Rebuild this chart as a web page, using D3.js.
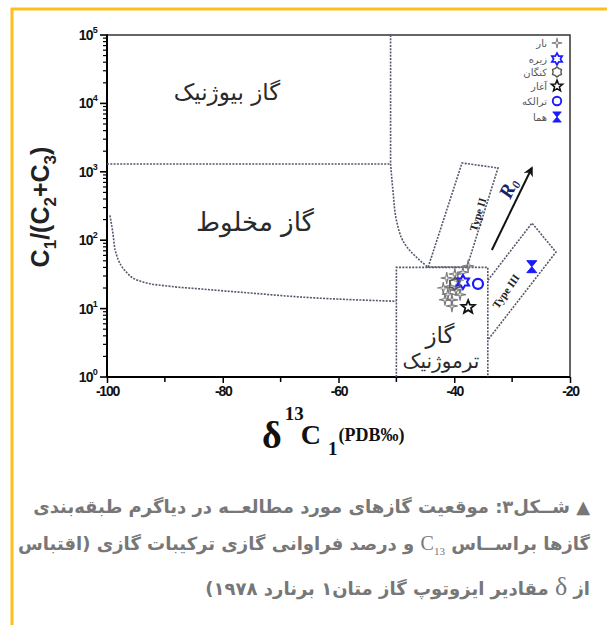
<!DOCTYPE html>
<html>
<head>
<meta charset="utf-8">
<script src="https://cdn.jsdelivr.net/npm/d3@7"></script>
<style>
  body { margin: 0; background: #fff; }
  #wrap { position: relative; width: 607px; height: 625px; overflow: hidden; }
  svg { position: absolute; left: 0; top: 0; }
  #caption { position: absolute; left: 60px; top: 489px; width: 530px; direction: rtl;
    font-family: "DejaVu Sans", sans-serif; font-weight: bold; font-size: 18px; color: #777; line-height: 36px; }
  #caption div { white-space: nowrap; }
  #caption .j { text-align: justify; text-align-last: justify; }
  .lat { font-family: "Liberation Serif", serif; font-weight: normal; direction: ltr; unicode-bidi: isolate; }
</style>
</head>
<body>
<div id="wrap">
<svg id="chart" width="607" height="625"></svg>
<div id="caption">
  <div class="j">▲ شــکل۳: موقعیت گازهای مورد مطالعــه در دیاگرم طبقه‌بندی</div>
  <div class="j">گازها براســاس <span class="lat" style="font-size:20px">C<sub style="font-size:11px">13</sub></span> و درصد فراوانی گازی ترکیبات گازی (اقتباس</div>
  <div>از <span class="lat" style="font-size:26px">δ</span> مقادیر ایزوتوپ گاز متان۱ برنارد ۱۹۷۸)</div>
</div>
</div>
<script>
// axis ticks
const xTicks = [-100, -80, -60, -40, -20];
const xMinor = [-90, -70, -50, -30];
const yExps = [0, 1, 2, 3, 4, 5];

// gas fields, [d13C, C1/(C2+C3)]
const narPts = [[-37.6, 42], [-38.5, 34], [-39.9, 32], [-41.3, 28], [-39.4, 26], [-40.7, 21],
  [-41.9, 20], [-39.7, 18.7], [-41.1, 16.3], [-39.0, 16], [-40.4, 13.4], [-41.6, 13.5], [-40.4, 10.9]];
const zirePts = [[-38.5, 24.5]];
const kanganPts = [[-39.9, 23]];
const agharPts = [[-37.6, 10.5]];
const taralekePts = [[-35.9, 23]];
const homaPts = [[-26.6, 41]];
const legendNames = ["نار", "زیره", "کنگان", "آغار", "ترالکه", "هما"];

// field boundaries (Bernard 1978)
const biogenicEdge = [[-100, 1300], [-51, 1300]];
const thermoEdge = [[-51, 1e5], [-51, 1300], [-50.6, 540], [-49.9, 180], [-48.2, 80], [-46.4, 55], [-44.5, 40]];
const mixedEdge = [[-99.5, 230], [-99.0, 130], [-98.6, 72], [-96.5, 33], [-93.8, 24.5], [-89.6, 21.4],
  [-83.9, 19.4], [-75.3, 16.9], [-66.7, 14.8], [-50, 12.8]];
const thermoBox = [[-50, 1], [-50, 40], [-34.2, 40], [-34.2, 1]];
const type2Box = [[-44.5, 40.5], [-38.66, 1346], [-32.44, 1138], [-37.8, 40.5]];
const type3Box = [[-34.17, 26], [-26.57, 178], [-22.42, 67], [-34.17, 3.5]];
const r0Arrow = [[-33.5, 72], [-26.6, 1138]];

const svg = d3.select("#chart");

// orange frame
svg.append("line").attr("x1", 11).attr("x2", 607).attr("y1", 9).attr("y2", 9)
  .attr("stroke", "#fdbf1c").attr("stroke-width", 3);
svg.append("line").attr("x1", 12).attr("x2", 12).attr("y1", 8).attr("y2", 625)
  .attr("stroke", "#fdbf1c").attr("stroke-width", 3);

const x = d3.scaleLinear().domain([-100, -20]).range([107, 570]);
const y = d3.scaleLog().domain([1, 1e5]).range([377, 35]);

// frame of plot
svg.append("rect").attr("x", x(-100)).attr("y", y(1e5))
  .attr("width", x(-20) - x(-100)).attr("height", y(1) - y(1e5))
  .attr("fill", "none").attr("stroke", "#333").attr("stroke-width", 1.5);

// x axis
const xAxis = svg.append("g").attr("transform", `translate(0,${y(1)})`)
  .call(d3.axisBottom(x).tickValues(xTicks).tickSize(6).tickFormat(d3.format("d")));
xAxis.select(".domain").attr("stroke-width", 2).attr("d", `M${x(-100)},0H${x(-20)}`);
xAxis.selectAll(".tick line").attr("stroke-width", 1.5);
xAxis.selectAll(".tick text").attr("font-family", "Liberation Sans, Arial").attr("font-weight", "bold")
  .attr("font-size", 14).attr("letter-spacing", -1.2).attr("fill", "#111").attr("y", 9)
  .text(d => d.toString().replace("-", "-"));
xAxis.selectAll(".minor").data(xMinor).enter().append("line")
  .attr("x1", d => x(d)).attr("x2", d => x(d)).attr("y1", 0).attr("y2", 5)
  .attr("stroke", "#000").attr("stroke-width", 1.5);

// y axis
const yAxis = svg.append("g").attr("transform", `translate(${x(-100)},0)`);
yAxis.append("line").attr("x1", 0).attr("x2", 0).attr("y1", y(1)).attr("y2", y(1e5))
  .attr("stroke", "#000").attr("stroke-width", 2);
const minorY = [];
yExps.slice(0, -1).forEach(e => { for (let k = 2; k < 10; k++) minorY.push(k * Math.pow(10, e)); });
yAxis.selectAll(".ym").data(minorY).enter().append("line")
  .attr("x1", -4).attr("x2", 1).attr("y1", d => y(d)).attr("y2", d => y(d))
  .attr("stroke", "#000").attr("stroke-width", 1.2);
yAxis.selectAll(".yM").data(yExps).enter().append("line")
  .attr("x1", -7).attr("x2", 1).attr("y1", d => y(Math.pow(10, d))).attr("y2", d => y(Math.pow(10, d)))
  .attr("stroke", "#000").attr("stroke-width", 1.6);
const yLab = yAxis.selectAll(".yl").data(yExps).enter().append("text")
  .attr("x", -10).attr("y", d => y(Math.pow(10, d)) + 5)
  .attr("text-anchor", "end").attr("font-family", "Liberation Sans, Arial").attr("font-weight", "bold")
  .attr("font-size", 14).attr("letter-spacing", -0.8).attr("fill", "#111");
yLab.append("tspan").text("10");
yLab.append("tspan").attr("dy", -7).attr("font-size", 9).text(d => d);

// axis titles
const yt = svg.append("text").attr("transform", `translate(49,207) rotate(-90)`)
  .attr("text-anchor", "middle").attr("font-family", "Liberation Sans, Arial").attr("font-weight", "bold")
  .attr("font-size", 25).attr("fill", "#222");
yt.append("tspan").text("C");
yt.append("tspan").attr("font-size", 17).attr("dy", 7).text("1");
yt.append("tspan").attr("dy", -7).text("/(C");
yt.append("tspan").attr("font-size", 17).attr("dy", 7).text("2");
yt.append("tspan").attr("dy", -7).text("+C");
yt.append("tspan").attr("font-size", 17).attr("dy", 7).text("3");
yt.append("tspan").attr("dy", -7).text(")");

const xt = svg.append("text").attr("x", 262).attr("y", 448)
  .attr("font-family", "Liberation Serif, serif").attr("font-weight", "bold").attr("fill", "#111");
xt.append("tspan").attr("font-size", 38).text("δ");
xt.append("tspan").attr("font-size", 19).attr("dx", 3).attr("dy", -28).text("13");
xt.append("tspan").attr("font-size", 28).attr("dx", -3).attr("dy", 24).text("C");
xt.append("tspan").attr("font-size", 19).attr("dx", 7).attr("dy", 11).text("1");
xt.append("tspan").attr("font-size", 18).attr("dx", 1).attr("dy", -14).text("(PDB‰)");

// field boundaries
const dots = { stroke: "#55586a", "stroke-width": 1.6, "stroke-dasharray": "2 1.3", fill: "none" };
const line = d3.line().x(d => x(d[0])).y(d => y(d[1]));
const curve = d3.line().x(d => x(d[0])).y(d => y(d[1])).curve(d3.curveMonotoneY);
function dotted(sel) { Object.entries(dots).forEach(([k, v]) => sel.attr(k, v)); return sel; }
dotted(svg.append("path").attr("d", line(biogenicEdge)));
dotted(svg.append("path").attr("d", line(thermoEdge.slice(0, 2)) + curve(thermoEdge.slice(1)).replace(/^M[^A-Z]*/, "")));
dotted(svg.append("path").attr("d", d3.line().x(d => x(d[0])).y(d => y(d[1])).curve(d3.curveMonotoneX)(mixedEdge)));
dotted(svg.append("path").attr("d", line(thermoBox)));
dotted(svg.append("path").attr("d", line(type2Box) + "Z"));
dotted(svg.append("path").attr("d", line(type3Box)));

// R0 arrow
svg.append("defs").append("marker").attr("id", "ah").attr("viewBox", "0 0 10 10")
  .attr("refX", 8).attr("refY", 5).attr("markerWidth", 5).attr("markerHeight", 5).attr("orient", "auto")
  .append("path").attr("d", "M0,0L10,5L0,10L3,5Z").attr("fill", "#111");
svg.append("path").attr("d", line(r0Arrow)).attr("stroke", "#111").attr("stroke-width", 2)
  .attr("marker-end", "url(#ah)");

// field labels
function fa(t, px, py, size) {
  return svg.append("text").attr("x", px).attr("y", py).attr("text-anchor", "middle").attr("direction", "rtl")
    .attr("font-family", "DejaVu Sans, sans-serif").attr("font-size", size).attr("fill", "#2a2a2a").text(t);
}
fa("گاز بیوژنیک", 227, 100, 23);
fa("گاز مخلوط", 255, 231, 26);
fa("گاز", 440, 343, 23);
fa("ترموژنیک", 441, 368, 20);

function rot(t, dx, dy, ang, size, color) {
  return svg.append("text").attr("transform", `translate(${x(dx)},${y(dy)}) rotate(${ang})`)
    .attr("text-anchor", "middle").attr("dominant-baseline", "middle")
    .attr("font-family", "Liberation Serif, serif").attr("font-weight", "bold")
    .attr("font-size", size).attr("fill", color).text(t);
}
rot("Type II", -35.7, 234, -73, 11, "#222");
rot("Type III", -30.9, 17.5, -55, 11, "#222");
const r0 = rot("", -30.4, 560, -65, 20, "#1b1f6b").attr("font-style", "italic");
r0.append("tspan").text("R");
r0.append("tspan").attr("font-size", 12).attr("dy", 5).text("0");

// marker shapes
function starPath(n, ro, ri) {
  const pts = d3.range(n * 2).map(i => {
    const a = Math.PI * i / n - Math.PI / 2, r = i % 2 ? ri : ro;
    return [r * Math.cos(a), r * Math.sin(a)];
  });
  return "M" + pts.join("L") + "Z";
}
const shapes = [
  { d: starPath(4, 6, 1.3), fill: "none", stroke: "#7a7a7a", sw: 1.1 },
  { d: starPath(6, 7, 4), fill: "none", stroke: "#1a1aff", sw: 2 },
  { d: starPath(6, 6, 4.6), fill: "none", stroke: "#555", sw: 1.6 },
  { d: starPath(5, 7, 3), fill: "none", stroke: "#111", sw: 1.8 },
  { d: "M5,0A5,5 0 1,1 -5,0A5,5 0 1,1 5,0", fill: "none", stroke: "#1a1aff", sw: 2.2 },
  { d: "M-5,-6L5,-6L0,0ZM-5,6L5,6L0,0Z", fill: "#1a1aff", stroke: "#1a1aff", sw: 1 }
];
const series = [narPts, zirePts, kanganPts, agharPts, taralekePts, homaPts];

series.forEach((pts, i) => {
  svg.selectAll(".s" + i).data(pts).enter().append("path")
    .attr("transform", d => `translate(${x(d[0])},${y(d[1])})`)
    .attr("d", shapes[i].d).attr("fill", shapes[i].fill)
    .attr("stroke", shapes[i].stroke).attr("stroke-width", shapes[i].sw);
});

// legend
const lg = svg.append("g").attr("transform", "translate(557,43)");
legendNames.forEach((n, i) => {
  const yy = [0, 16, 29, 43, 58, 74][i];
  lg.append("path").attr("transform", `translate(0,${yy}) scale(0.85)`).attr("d", shapes[i].d)
    .attr("fill", shapes[i].fill).attr("stroke", shapes[i].stroke).attr("stroke-width", shapes[i].sw);
  lg.append("text").attr("x", -10).attr("y", yy + 4).attr("text-anchor", "start").attr("direction", "rtl")
    .attr("font-family", "DejaVu Sans, sans-serif").attr("font-size", 10).attr("fill", "#555").text(n);
});
</script>
</body>
</html>
